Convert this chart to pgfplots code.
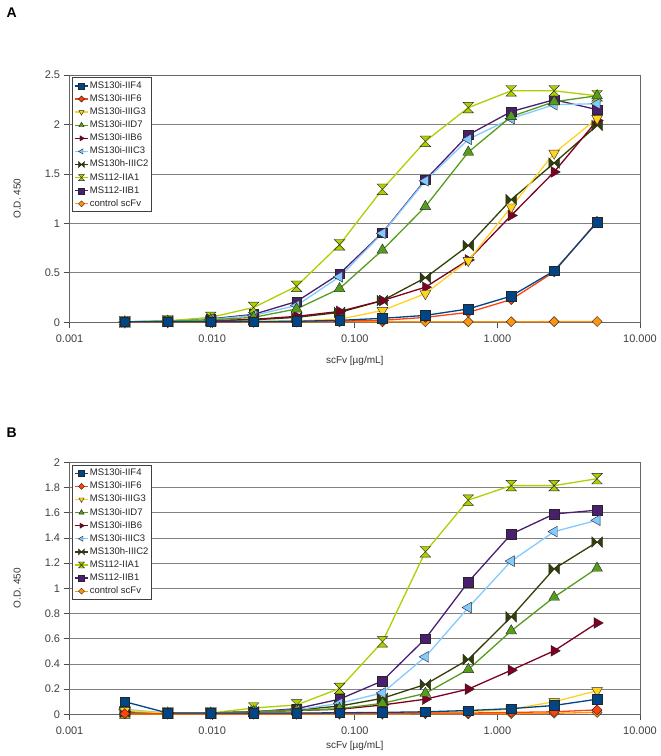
\documentclass[border=0pt]{standalone}
\usepackage{fontspec}
\setmainfont{Liberation Sans}
\usepackage{pgfplots}
\usepackage{pgfplotstable}
\pgfplotsset{compat=1.18}

\definecolor{c1}{HTML}{004586}
\definecolor{c2}{HTML}{FF420E}
\definecolor{c3}{HTML}{FFD320}
\definecolor{c4}{HTML}{579D1C}
\definecolor{c5}{HTML}{7E0021}
\definecolor{c6}{HTML}{83CAFF}
\definecolor{c7}{HTML}{314004}
\definecolor{c8}{HTML}{AECF00}
\definecolor{c9}{HTML}{4B1F6F}
\definecolor{c10}{HTML}{FF950E}

\pgfdeclareplotmark{hourglass}{%
  \pgfpathmoveto{\pgfpoint{-\pgfplotmarksize}{\pgfplotmarksize}}%
  \pgfpathlineto{\pgfpoint{\pgfplotmarksize}{\pgfplotmarksize}}%
  \pgfpathlineto{\pgfpoint{-\pgfplotmarksize}{-\pgfplotmarksize}}%
  \pgfpathlineto{\pgfpoint{\pgfplotmarksize}{-\pgfplotmarksize}}%
  \pgfpathclose\pgfusepathqfillstroke}
\pgfdeclareplotmark{bowtie}{%
  \pgfpathmoveto{\pgfpoint{-\pgfplotmarksize}{\pgfplotmarksize}}%
  \pgfpathlineto{\pgfpoint{\pgfplotmarksize}{-\pgfplotmarksize}}%
  \pgfpathlineto{\pgfpoint{\pgfplotmarksize}{\pgfplotmarksize}}%
  \pgfpathlineto{\pgfpoint{-\pgfplotmarksize}{-\pgfplotmarksize}}%
  \pgfpathclose\pgfusepathqfillstroke}
\pgfdeclareplotmark{rdiamond}{%
  \pgfpathmoveto{\pgfpoint{0pt}{\pgfplotmarksize}}%
  \pgfpathlineto{\pgfpoint{\pgfplotmarksize}{0pt}}%
  \pgfpathlineto{\pgfpoint{0pt}{-\pgfplotmarksize}}%
  \pgfpathlineto{\pgfpoint{-\pgfplotmarksize}{0pt}}%
  \pgfpathclose\pgfusepathqfillstroke}

\pgfplotstableread{
x       f4    f6    g3    d7    b6    c3    c2    a1    b1    ctl
0.00244 0.005 0.003 0.003 0.005 0.004 0.005 0.004 0.005 0.005 0.005
0.00488 0.005 0.003 0.005 0.010 0.008 0.010 0.007 0.015 0.012 0.005
0.00977 0.005 0.004 0.008 0.025 0.015 0.030 0.015 0.050 0.035 0.005
0.01953 0.008 0.005 0.010 0.050 0.030 0.070 0.025 0.150 0.080 0.005
0.03906 0.010 0.007 0.015 0.135 0.060 0.170 0.050 0.364 0.210 0.005
0.07813 0.020 0.012 0.030 0.340 0.110 0.460 0.100 0.784 0.490 0.005
0.15625 0.040 0.020 0.120 0.730 0.220 0.900 0.220 1.345 0.905 0.005
0.3125  0.070 0.050 0.290 1.170 0.355 1.430 0.450 1.830 1.440 0.005
0.625   0.135 0.100 0.625 1.720 0.630 1.850 0.776 2.170 1.895 0.005
1.25    0.265 0.230 1.165 2.080 1.080 2.060 1.240 2.340 2.130 0.006
2.5     0.520 0.510 1.710 2.230 1.520 2.200 1.610 2.340 2.250 0.007
5       1.010 1.020 2.060 2.290 2.040 2.210 1.990 2.290 2.150 0.008
}\tabA

\pgfplotstableread{
x       f4    f6    g3    d7    b6    c3    c2    a1    b1    ctl
0.00244 0.100 0.005 0.030 0.020 0.020 0.040 0.020 0.010 0.020 0.003
0.00488 0.010 0.005 0.010 0.010 0.010 0.010 0.010 0.010 0.010 0.003
0.00977 0.010 0.005 0.010 0.010 0.010 0.010 0.010 0.010 0.010 0.003
0.01953 0.010 0.005 0.010 0.020 0.020 0.020 0.020 0.050 0.020 0.003
0.03906 0.010 0.005 0.010 0.030 0.030 0.035 0.035 0.074 0.045 0.003
0.07813 0.012 0.006 0.010 0.045 0.040 0.087 0.065 0.205 0.120 0.003
0.15625 0.015 0.008 0.010 0.087 0.074 0.170 0.127 0.575 0.265 0.003
0.3125  0.020 0.010 0.015 0.166 0.120 0.456 0.237 1.290 0.600 0.004
0.625   0.030 0.010 0.020 0.356 0.200 0.847 0.435 1.700 1.050 0.004
1.25    0.045 0.015 0.040 0.662 0.350 1.216 0.773 1.815 1.430 0.005
2.5     0.070 0.020 0.100 0.930 0.504 1.450 1.155 1.815 1.590 0.008
5       0.120 0.035 0.187 1.160 0.725 1.540 1.367 1.870 1.620 0.015
}\tabB

\tikzset{mk/.style={solid, draw=black!85, line width=0.4pt, fill=#1}}

\newcommand{\allplots}[1]{%
  \addplot[color=c10, line width=1.3pt, mark=rdiamond, mark size=5pt, mark options={mk=c10}] table[x=x,y=ctl]{#1};
  \addplot[color=c9, line width=1.3pt, mark=square*, mark size=4.8pt, mark options={mk=c9}] table[x=x,y=b1]{#1};
  \addplot[color=c8, line width=1.3pt, mark=hourglass, mark size=5.3pt, mark options={mk=c8}] table[x=x,y=a1]{#1};
  \addplot[color=c7, line width=1.3pt, mark=bowtie, mark size=5.3pt, mark options={mk=c7}] table[x=x,y=c2]{#1};
  \addplot[color=c6, line width=1.3pt, mark=triangle*, mark size=6.2pt, mark options={mk=c6, rotate=90}] table[x=x,y=c3]{#1};
  \addplot[color=c5, line width=1.3pt, mark=triangle*, mark size=6.2pt, mark options={mk=c5, rotate=-90}] table[x=x,y=b6]{#1};
  \addplot[color=c4, line width=1.3pt, mark=triangle*, mark size=6.2pt, mark options={mk=c4}] table[x=x,y=d7]{#1};
  \addplot[color=c3, line width=1.3pt, mark=triangle*, mark size=6.2pt, mark options={mk=c3, rotate=180}] table[x=x,y=g3]{#1};
  \addplot[color=c2, line width=1.3pt, mark=rdiamond, mark size=5pt, mark options={mk=c2}] table[x=x,y=f6]{#1};
  \addplot[color=c1, line width=1.3pt, mark=square*, mark size=4.8pt, mark options={mk=c1}] table[x=x,y=f4]{#1};
  \legend{control scFv,MS112-IIB1,MS112-IIA1,MS130h-IIIC2,MS130i-IIIC3,MS130i-IIB6,MS130i-IID7,MS130i-IIIG3,MS130i-IIF6,MS130i-IIF4}
}

\pgfplotsset{
  every axis/.append style={
    scale only axis, width=570.4pt,
    xmin=0.001, xmax=10,
    xtick={0.001,0.01,0.1,1,10},
    xticklabels={0.001,0.010,0.100,1.000,10.000},
    xminorticks=false,
    ymin=0,
    ymajorgrids,
    tick pos=left,
    grid style={black!50, line width=0.8pt},
    axis line style={black!60, line width=0.8pt},
    tick style={black!70, line width=0.8pt},
    tick align=outside, major tick length=6pt,
    ticklabel style={font=\fontsize{11}{13}\selectfont, text=black!75},
    xticklabel style={yshift=-3pt},
    xlabel={scFv [µg/mL]},
    ylabel={O.D. 450},
    label style={font=\fontsize{10}{12}\selectfont, text=black!80},
    ylabel style={at={(axis description cs:-0.092,0.5)}, anchor=center},
    clip=false,
    reverse legend,
    legend cell align=left,
    legend style={at={(0.005,0.99)}, anchor=north west, draw=black!75, line width=0.8pt, fill=white,
      font=\fontsize{9.5}{11}\selectfont, row sep=0pt, inner sep=1.5pt,
      nodes={inner sep=1.2pt, text height=7.8pt, text depth=2.9pt, text=black!85}},
  },
  legend image code/.code={\draw[mark repeat=2,mark phase=2,#1,mark size=3pt,line width=1.3pt] plot coordinates {(0pt,0pt) (6.5pt,0pt) (13pt,0pt)};},
}

\begin{document}
\begin{tikzpicture}
\path[use as bounding box] (0pt,0pt) rectangle (661pt,-756pt);
\node[anchor=west, font=\bfseries\fontsize{14}{16}\selectfont] at (3pt,-13pt) {A};
\node[anchor=west, font=\bfseries\fontsize{14}{16}\selectfont] at (3pt,-433pt) {B};

\begin{axis}[xmode=log, /pgf/number format/assume math mode=true,
  at={(69.6pt,-75pt)}, anchor=north west, height=247.3pt,
  ymax=2.5, ytick={0,0.5,1,1.5,2,2.5},
  xlabel style={at={(axis description cs:0.5,-0.158)}, anchor=center}]
\allplots{\tabA}
\end{axis}

\begin{axis}[xmode=log, /pgf/number format/assume math mode=true,
  at={(69.6pt,-462.3pt)}, anchor=north west, height=252pt,
  ymax=2, ytick={0,0.2,0.4,0.6,0.8,1,1.2,1.4,1.6,1.8,2},
  yticklabels={0,0.2,0.4,0.6,0.8,1,1.2,1.4,1.6,1.8,2},
  xlabel style={at={(axis description cs:0.5,-0.127)}, anchor=center}]
\allplots{\tabB}
\end{axis}
\end{tikzpicture}
\end{document}
